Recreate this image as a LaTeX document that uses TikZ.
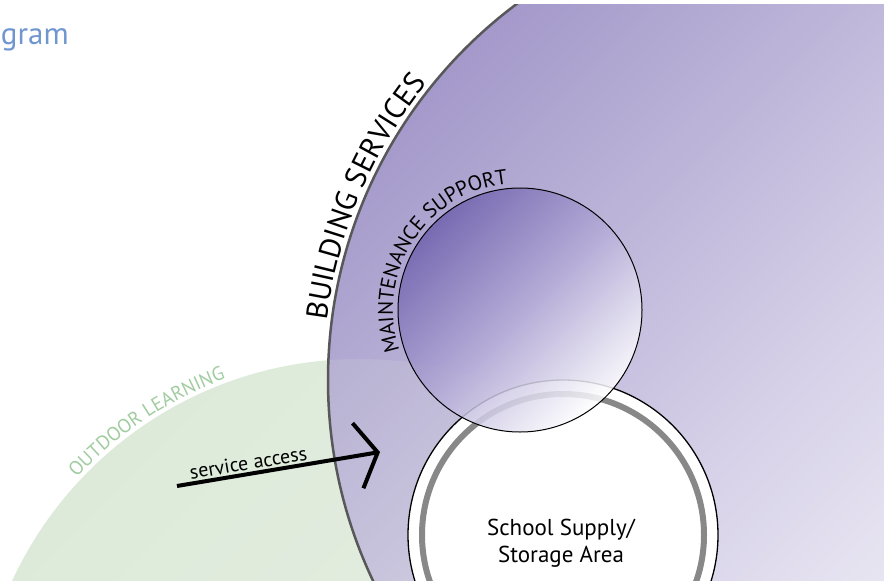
\documentclass[tikz,border=0pt]{standalone}
\usepackage{fontspec}
\setmainfont{PT Sans}
\usetikzlibrary{decorations.text, arrows.meta}

\definecolor{servicespurple}{RGB}{164,153,202}
\definecolor{servicesmid}{RGB}{214,209,232}
\definecolor{maintpurple}{RGB}{112,98,174}
\definecolor{maintmid}{RGB}{178,169,214}
\definecolor{outdoorgreen}{RGB}{221,234,217}
\definecolor{outdoorlight}{RGB}{233,239,231}
\definecolor{outdoortext}{RGB}{160,204,160}
\definecolor{titleblue}{RGB}{112,150,207}
\definecolor{ringgray}{RGB}{136,136,136}
\definecolor{rimgray}{RGB}{88,88,88}

\begin{document}
\begin{tikzpicture}[x=1pt,y=-1pt]
        \useasboundingbox (0,0) rectangle (884,581);
        \clip (0,4) rectangle (884,581);

        %Shape: Circle -- outdoor learning
        \shade [top color=outdoorgreen, bottom color=outdoorlight, shading angle=45] (359,741) circle [radius=382];

        %Shape: Circle -- building services
        \shade [top color=servicespurple, bottom color=white, middle color=servicesmid, shading angle=45] (797,380) circle [radius=469];
        \begin{scope}
          \clip (797,380) circle [radius=469];
          \fill [outdoorgreen, fill opacity=0.15] (359,741) circle [radius=382];
        \end{scope}
        \draw [rimgray, line width=2.5] (797,380) circle [radius=469];

        %Shape: Circle -- school supply / storage
        \draw [black, line width=1.3, fill=white] (563,535) circle [radius=155];
        \draw [ringgray, line width=6] (563,535) circle [radius=141];

        %Shape: Circle -- maintenance support
        \shade [top color=maintpurple, bottom color=white, middle color=maintmid, shading angle=45, fill opacity=0.85] (520,310) circle [radius=122];
        \draw [black, line width=1] (520,310) circle [radius=122];

        % Text Node
        \draw (0,44) node (title) [anchor=base west][inner sep=0.75pt] {\fontsize{31}{31}\selectfont\color{titleblue}gram};
        % Text Node
        \draw (561,543) node (storage) [align=center, font=\fontsize{23}{27}\selectfont][inner sep=0.75pt] {School Supply/\\Storage Area};

        % Text along arcs
        \path [decorate, decoration={text along path, text align=center,
            text={|\fontsize{30}{30}\selectfont|BUILDING SERVICES}}]
            (797,380) ++(-202:474) arc [start angle=-202, end angle=-112, radius=474];
        \path [decorate, decoration={text along path, text align=center,
            text={|\fontsize{21}{21}\selectfont|MAINTENANCE SUPPORT}}]
            (520,310) ++(-217:127) arc [start angle=-217, end angle=-77, radius=127];
        \path [decorate, decoration={text along path, text align=center,
            text={|\color{outdoortext}\fontsize{19.5}{19.5}\selectfont|OUTDOOR LEARNING}}]
            (359,741) ++(-148.6:386) arc [start angle=-148.6, end angle=-98.6, radius=386];

        % Arrow: service access
        \coordinate (access-start) at (177,486);
        \coordinate (access-tip) at (380,452);
        \draw [line width=4, -{Straight Barb[length=20pt, width=66pt]}] (access-start) -- node (access) [above, sloped, pos=0.36, inner sep=2pt] {\fontsize{20}{20}\selectfont service access} (access-tip);

\end{tikzpicture}
\end{document}
